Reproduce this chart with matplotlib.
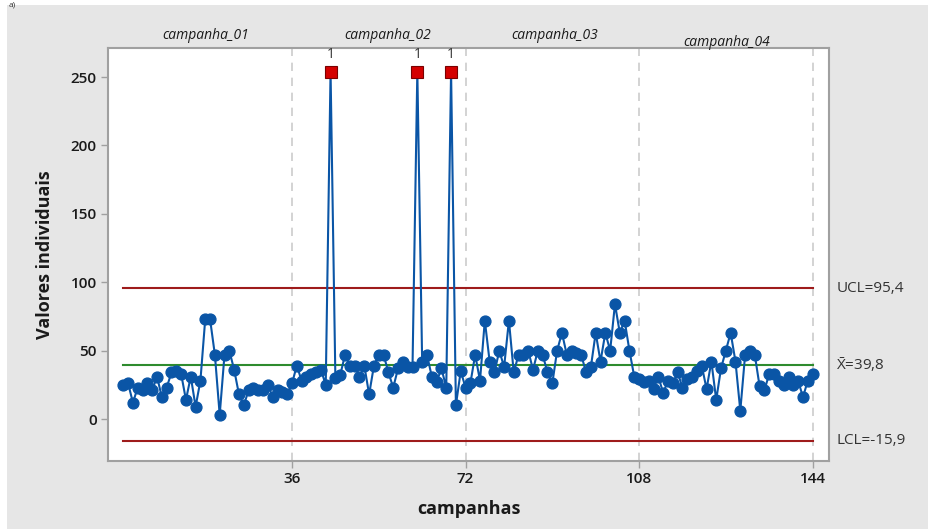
import matplotlib
matplotlib.use("Agg")
import matplotlib.pyplot as plt
import numpy as np

plt.rcParams['font.family'] = ['Open Sans', 'DejaVu Sans']
plt.rcParams['mathtext.fontset'] = 'custom'
plt.rcParams['mathtext.rm'] = 'Open Sans'
plt.rcParams['mathtext.it'] = 'Open Sans:italic'
plt.rcParams['mathtext.bf'] = 'Open Sans:bold'

values = [25, 26, 12, 23, 21, 26, 21, 31, 16, 23,
          34, 35, 33, 14, 31, 9, 28, 73, 73, 47,
          3, 47, 50, 36, 18, 10, 21, 23, 21, 21,
          25, 16, 21, 20, 18, 26, 39, 28, 31, 33,
          34, 36, 25, 254, 30, 32, 47, 39, 39, 31,
          39, 18, 39, 47, 47, 34, 23, 37, 42, 38,
          38, 254, 42, 47, 31, 27, 37, 23, 254, 10,
          35, 23, 26, 47, 28, 72, 42, 34, 50, 38,
          72, 34, 47, 47, 50, 36, 50, 47, 34, 26,
          50, 63, 47, 50, 48, 47, 34, 38, 63, 42,
          63, 50, 84, 63, 72, 50, 31, 29, 27, 28,
          22, 31, 19, 28, 26, 34, 23, 29, 31, 35,
          39, 22, 42, 14, 37, 50, 63, 42, 6, 47,
          50, 47, 24, 21, 33, 33, 28, 25, 31, 25,
          28, 16, 28, 33]
ucl = 95.4
center = 39.8
lcl = -15.9
ucl_label = "UCL=95,4"
center_label = r"$\bar{\mathrm{X}}$=39,8"
lcl_label = "LCL=-15,9"
stage_bounds = [36, 72, 108, 144]
stage_names = ["campanha_01", "campanha_02", "campanha_03", "campanha_04"]
stage_label_x = [18.2, 55.9, 90.4, 126.2]
xticks = [36, 72, 108, 144]
yticks = [0, 50, 100, 150, 200, 250]

x = np.arange(1, len(values) + 1)
y = np.array(values, dtype=float)
out = (y > ucl) | (y < lcl)

W, H = 929, 529
fig = plt.figure(figsize=(W / 100, H / 100), dpi=100, facecolor='#e6e6e6')
fig.patches.append(plt.Rectangle((0, 1 - 5 / H), 1, 5 / H, transform=fig.transFigure,
                                 facecolor='white', edgecolor='none', zorder=0))
fig.patches.append(plt.Rectangle((0, 0), 7 / W, 1, transform=fig.transFigure,
                                 facecolor='white', edgecolor='none', zorder=0))

ax = fig.add_axes([108 / W, 1 - 461 / H, (829 - 108) / W, (461 - 48) / H])
ax.set_facecolor('white')

for b in stage_bounds:
    ax.axvline(b, color='#cccccc', lw=1.2, ls=(0, (5, 4)), zorder=1)

ax.plot([1, len(values)], [ucl, ucl], color='#9e1b1b', lw=1.5, zorder=2)
ax.plot([1, len(values)], [lcl, lcl], color='#9e1b1b', lw=1.5, zorder=2)
ax.plot([1, len(values)], [center, center], color='#2e8b2e', lw=1.5, zorder=2)

ax.plot(x, y, color='#0a55a6', lw=1.5, zorder=3)
ax.plot(x[~out], y[~out], 'o', color='#0a55a6', ms=7.8, mec='#0a55a6', zorder=4)
ax.plot(x[out], y[out], 's', color='#d40000', ms=8, mec='#7a0000', mew=0.8, zorder=5)
for xi, yi in zip(x[out], y[out]):
    ax.text(xi, yi + 7, "1", ha='center', va='bottom', fontsize=10, color='#333333')

ax.set_xlim(-2.17, 147.4)
ax.set_ylim(-30.7, 271.2)
ax.set_xticks(xticks)
ax.set_yticks(yticks)
ax.tick_params(axis='both', direction='out', length=5, width=1, color='#a0a0a0',
               labelsize=11, labelcolor='#1a1a1a', pad=3)
for lbl in ax.get_xticklabels() + ax.get_yticklabels():
    lbl.set_fontweight('semibold')
for s in ax.spines.values():
    s.set_color('#a0a0a0')
    s.set_linewidth(1.5)

for nm, sx in zip(stage_names, stage_label_x):
    yy = 1.012 if nm != "campanha_04" else 0.995
    ax.text(sx, yy, nm, transform=ax.get_xaxis_transform(), ha='center', va='bottom',
            fontsize=10, style='italic', color='#1a1a1a', clip_on=False)

tx = ax.get_yaxis_transform()
for val, lab in [(ucl, ucl_label), (center, center_label), (lcl, lcl_label)]:
    ax.text(1.01, val, lab, transform=tx, ha='left', va='center', fontsize=11,
            color='#333333', clip_on=False)

ax.set_xlabel("campanhas", fontsize=13, fontweight='bold', color='#1a1a1a', labelpad=10)
ax.set_ylabel("Valores individuais", fontsize=13, fontweight='bold', color='#1a1a1a', labelpad=12)

fig.text(9 / W, 1 - 1 / H, "a)", fontsize=6, va='top', ha='left', color='#333333')

fig.savefig("out.png", dpi=100, facecolor=fig.get_facecolor())
